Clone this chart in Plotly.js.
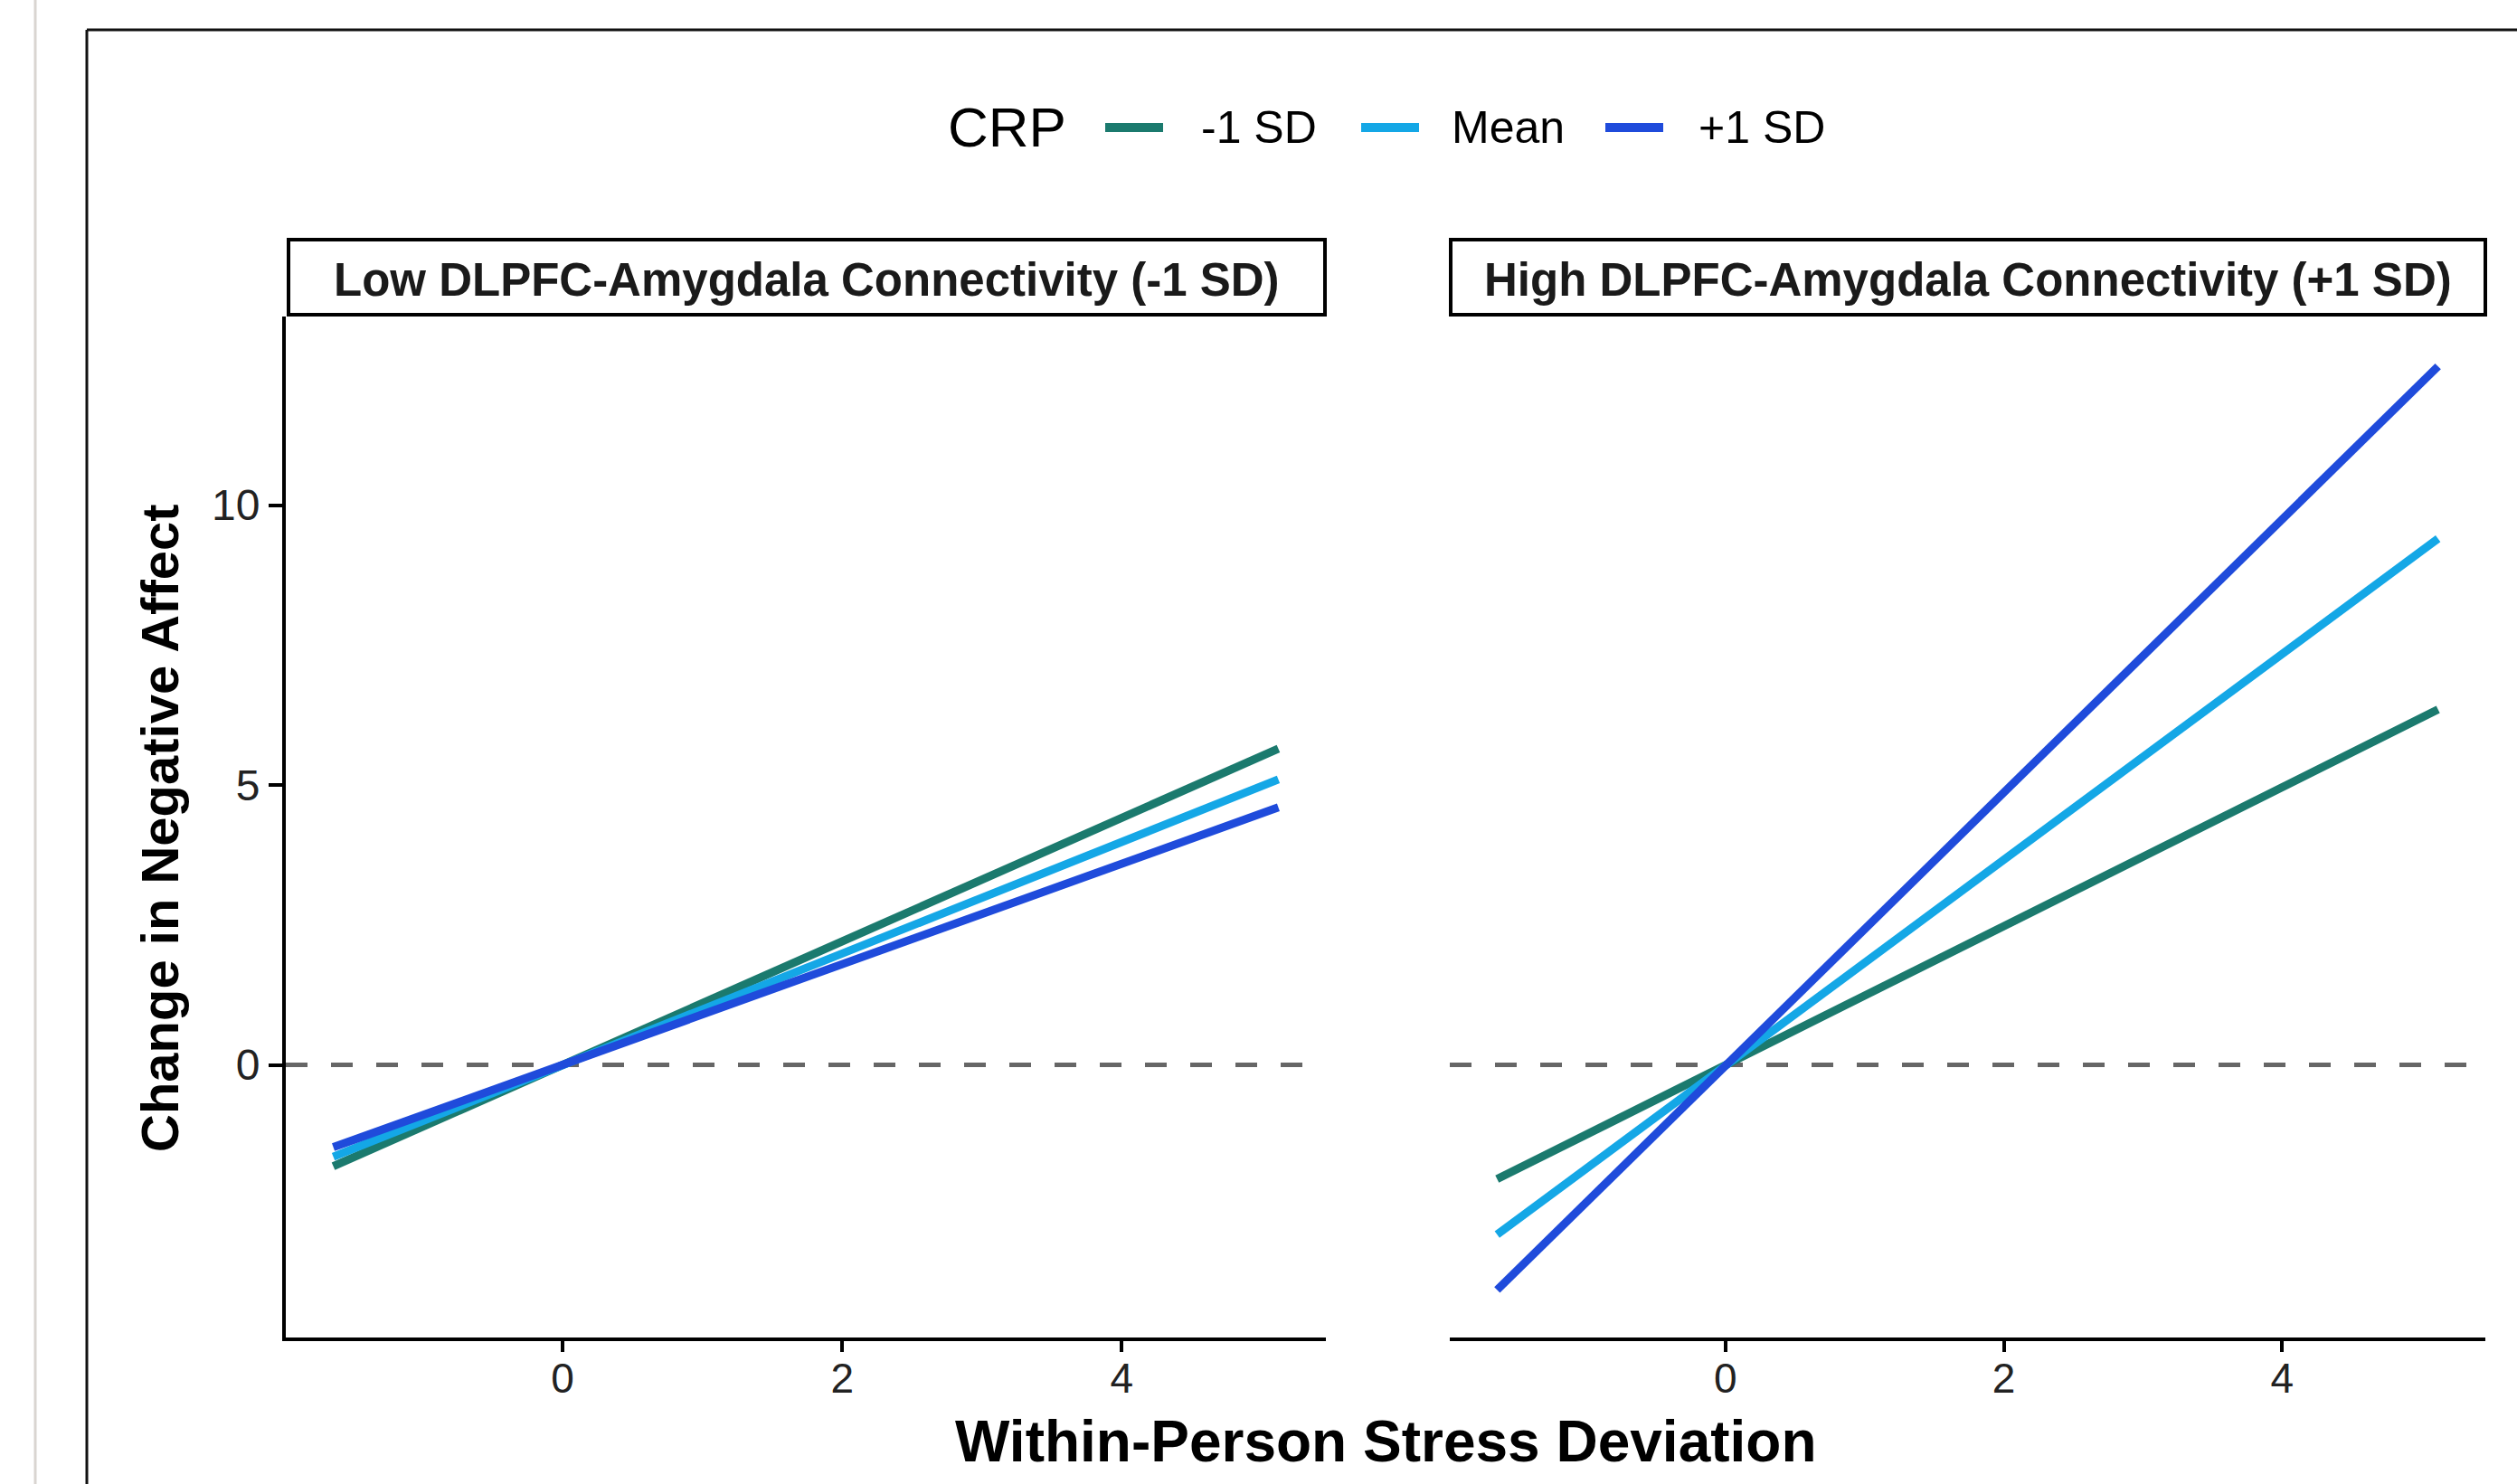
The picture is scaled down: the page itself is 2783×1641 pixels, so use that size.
<!DOCTYPE html>
<html>
<head>
<meta charset="utf-8">
<script src="https://cdn.plot.ly/plotly-3.0.1.min.js"></script>
<style>html,body{margin:0;padding:0;background:#fff;}#chart{width:2783px;height:1641px;}</style>
</head>
<body>
<div id="chart"></div>
<script>
// ---- data ----
var crpLevels = ['-1 SD', 'Mean', '+1 SD'];
var panelTitles = ['Low DLPFC-Amygdala Connectivity (-1 SD)', 'High DLPFC-Amygdala Connectivity (+1 SD)'];
var stressDeviation = [-1.64, 5.12];
var lowConnMinus1SD = [-1.81, 5.65];
var lowConnMean = [-1.64, 5.10];
var lowConnPlus1SD = [-1.47, 4.60];
var highConnMinus1SD = [-2.04, 6.35];
var highConnMean = [-3.03, 9.40];
var highConnPlus1SD = [-4.02, 12.48];
var xTicks = [0, 2, 4];
var yTicks = [0, 5, 10];
var xTitle = 'Within-Person Stress Deviation';
var yTitle = 'Change in Negative Affect';
var legendTitle = 'CRP';

var colors = ['#1B7A6E', '#14A7E6', '#1F4BDB'];
var W = 2783, H = 1641;
function px(x) { return x / W; }
function py(y) { return 1 - y / H; }

var FONT = 'Liberation Sans, Arial, Helvetica, sans-serif';
var lowSeries = [lowConnMinus1SD, lowConnMean, lowConnPlus1SD];
var highSeries = [highConnMinus1SD, highConnMean, highConnPlus1SD];

var traces = [];
crpLevels.forEach(function (lvl, i) {
  traces.push({
    x: stressDeviation, y: lowSeries[i], type: 'scatter', mode: 'lines',
    name: lvl, legendgroup: lvl, showlegend: false,
    line: { color: colors[i], width: 9 }, xaxis: 'x', yaxis: 'y'
  });
});
crpLevels.forEach(function (lvl, i) {
  traces.push({
    x: stressDeviation, y: highSeries[i], type: 'scatter', mode: 'lines',
    name: lvl, legendgroup: lvl, showlegend: false,
    line: { color: colors[i], width: 9 }, xaxis: 'x2', yaxis: 'y2'
  });
});

var xRange = [-1.98, 5.46];
var yRange = [-4.87, 13.37];
var yDom = [py(1479), py(350)];

var axBase = {
  range: xRange, tickvals: xTicks, ticktext: xTicks.map(String),
  showgrid: false, zeroline: false, showline: true, linecolor: '#000', linewidth: 4,
  ticks: 'outside', ticklen: 12, tickwidth: 4, tickcolor: '#000', ticklabelstandoff: -10,
  tickfont: { family: FONT, size: 46, color: '#222' }, fixedrange: true
};

// ---- legend (drawn as a row of keys and labels, like the ggplot guide) ----
var legendY = py(141);
var legendKeys = [[1222, 1286], [1505, 1569], [1775, 1839]];
var legendLabelX = [1326, 1603, 1876];

var shapes = [
  // outer screenshot frame
  { type: 'line', xref: 'paper', yref: 'paper', x0: px(39), x1: px(39), y0: 0, y1: 1, line: { color: '#D9D5D1', width: 3 } },
  { type: 'line', xref: 'paper', yref: 'paper', x0: px(96), x1: 1, y0: py(33), y1: py(33), line: { color: '#111', width: 3 } },
  { type: 'line', xref: 'paper', yref: 'paper', x0: px(96), x1: px(96), y0: py(33), y1: 0, line: { color: '#111', width: 3 } },
  // zero reference lines
  { type: 'line', xref: 'x domain', yref: 'y', x0: 0, x1: 1, y0: 0, y1: 0, layer: 'below', line: { color: '#666', width: 5, dash: '24px,26px' } },
  { type: 'line', xref: 'x2 domain', yref: 'y2', x0: 0, x1: 1, y0: 0, y1: 0, layer: 'below', line: { color: '#666', width: 5, dash: '24px,26px' } },
  // facet strips
  { type: 'rect', xref: 'paper', yref: 'paper', x0: px(319), x1: px(1465), y0: py(348), y1: py(265), fillcolor: '#fff', line: { color: '#000', width: 4 } },
  { type: 'rect', xref: 'paper', yref: 'paper', x0: px(1604), x1: px(2748), y0: py(348), y1: py(265), fillcolor: '#fff', line: { color: '#000', width: 4 } }
];
legendKeys.forEach(function (k, i) {
  shapes.push({ type: 'line', xref: 'paper', yref: 'paper', x0: px(k[0]), x1: px(k[1]), y0: legendY, y1: legendY,
    line: { color: colors[i], width: 10 } });
});

var annotations = [
  { xref: 'paper', yref: 'paper', x: px(1046), y: py(141), xanchor: 'left', yanchor: 'middle', showarrow: false,
    text: legendTitle, font: { family: FONT, size: 62, color: '#000' } },
  { xref: 'paper', yref: 'paper', x: px(892), y: py(309), xanchor: 'center', yanchor: 'middle', showarrow: false,
    text: panelTitles[0], font: { family: FONT, size: 51, color: '#1a1a1a', weight: 'bold' } },
  { xref: 'paper', yref: 'paper', x: px(2176), y: py(309), xanchor: 'center', yanchor: 'middle', showarrow: false,
    text: panelTitles[1], font: { family: FONT, size: 51, color: '#1a1a1a', weight: 'bold' } },
  { xref: 'paper', yref: 'paper', x: px(1532), y: py(1594), xanchor: 'center', yanchor: 'middle', showarrow: false,
    text: xTitle, font: { family: FONT, size: 64, color: '#000', weight: 'bold' } },
  { xref: 'paper', yref: 'paper', x: px(176), y: py(916), xanchor: 'center', yanchor: 'middle', showarrow: false, textangle: -90,
    text: yTitle, font: { family: FONT, size: 58, color: '#000', weight: 'bold' } }
];
crpLevels.forEach(function (lvl, i) {
  annotations.push({ xref: 'paper', yref: 'paper', x: px(legendLabelX[i]), y: py(141), xanchor: 'left', yanchor: 'middle',
    showarrow: false, text: lvl, font: { family: FONT, size: 50, color: '#000' } });
});

var layout = {
  width: W, height: H,
  margin: { l: 0, r: 0, t: 0, b: 0 },
  paper_bgcolor: '#fff', plot_bgcolor: 'rgba(0,0,0,0)',
  showlegend: false,
  xaxis: Object.assign({}, axBase, { domain: [px(316), px(1466)], anchor: 'y' }),
  xaxis2: Object.assign({}, axBase, { domain: [px(1603), px(2748)], anchor: 'y2' }),
  yaxis: {
    domain: yDom, range: yRange, tickvals: yTicks, ticktext: yTicks.map(String),
    showgrid: false, zeroline: false, showline: true, linecolor: '#000', linewidth: 4,
    ticks: 'outside', ticklen: 15, tickwidth: 4, tickcolor: '#000',
    tickfont: { family: FONT, size: 48, color: '#222' }, anchor: 'x', fixedrange: true
  },
  yaxis2: {
    domain: yDom, range: yRange, showgrid: false, zeroline: false, showline: false,
    showticklabels: false, ticks: '', anchor: 'x2', fixedrange: true
  },
  shapes: shapes,
  annotations: annotations
};

Plotly.newPlot('chart', traces, layout, { displayModeBar: false, staticPlot: true });
</script>
</body>
</html>
